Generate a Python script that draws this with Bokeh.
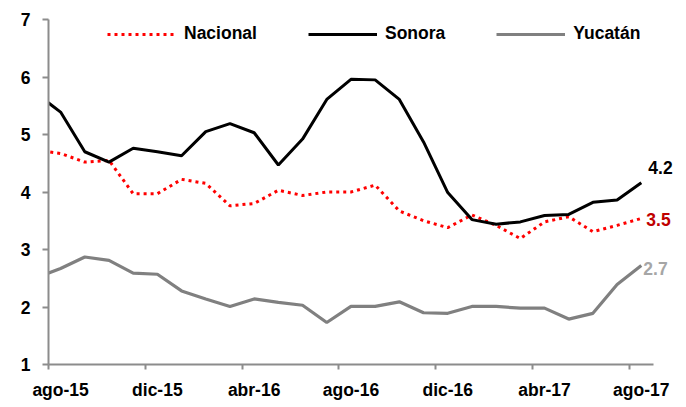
from bokeh.plotting import figure
from bokeh.models import (Range1d, FixedTicker, Legend, LegendItem, Label)
from bokeh.embed import file_html
from bokeh.resources import INLINE
import numpy as np

months = ["jul-15", "ago-15", "sep-15", "oct-15", "nov-15", "dic-15",
          "ene-16", "feb-16", "mar-16", "abr-16", "may-16", "jun-16",
          "jul-16", "ago-16", "sep-16", "oct-16", "nov-16", "dic-16",
          "ene-17", "feb-17", "mar-17", "abr-17", "may-17", "jun-17",
          "jul-17", "ago-17"]
nacional = [4.73, 4.67, 4.52, 4.55, 3.97, 3.97, 4.22, 4.15, 3.76, 3.80,
            4.03, 3.94, 4.00, 4.00, 4.12, 3.67, 3.50, 3.38, 3.60, 3.42,
            3.19, 3.48, 3.57, 3.31, 3.42, 3.54]
sonora = [5.71, 5.39, 4.70, 4.52, 4.76, 4.70, 4.63, 5.05, 5.19, 5.03,
          4.47, 4.92, 5.61, 5.96, 5.95, 5.61, 4.87, 3.99, 3.52, 3.44,
          3.48, 3.59, 3.61, 3.82, 3.86, 4.16]
yucatan = [2.51, 2.67, 2.87, 2.81, 2.59, 2.57, 2.28, 2.14, 2.01, 2.14,
           2.08, 2.03, 1.73, 2.01, 2.01, 2.09, 1.90, 1.89, 2.01, 2.01,
           1.98, 1.98, 1.79, 1.89, 2.39, 2.72]
y_ticks = [1, 2, 3, 4, 5, 6, 7]

x = list(np.arange(len(months)) - 1)
FONT = "Liberation Sans"
FS = "17.5px"
AX = "#8C8C8C"

p = figure(frame_width=632, frame_height=345, output_backend="svg",
           toolbar_location=None,
           x_range=Range1d(-0.5, 25.62), y_range=Range1d(1, 7),
           min_border_left=48, min_border_right=0, min_border_top=19,
           min_border_bottom=0)
p.outline_line_color = None
p.grid.visible = False
p.background_fill_color = "white"
p.border_fill_color = "white"

r_nac = p.line(x, nacional, line_color="#FF0000", line_width=3, line_dash="3 4")
r_son = p.line(x, sonora, line_color="#000000", line_width=3)
r_yuc = p.line(x, yucatan, line_color="#808080", line_width=3.2)

# axes
xa = p.xaxis[0]
label_pos = list(range(0, 25, 4))
xa.bounds = (-0.5, 24.5)
xa.ticker = FixedTicker(ticks=label_pos, minor_ticks=[t - 0.5 for t in label_pos])
xa.major_label_overrides = {t: months[t + 1] for t in label_pos}
xa.major_tick_line_color = None
xa.major_tick_out = 0
xa.major_tick_in = 0
xa.minor_tick_line_color = AX
xa.minor_tick_line_width = 2
xa.minor_tick_out = 5
xa.minor_tick_in = 0
xa.axis_line_color = AX
xa.axis_line_width = 2
xa.major_label_standoff = 10
xa.major_label_text_font = FONT
xa.major_label_text_font_style = "bold"
xa.major_label_text_font_size = FS
xa.major_label_text_color = "black"

ya = p.yaxis[0]
ya.ticker = FixedTicker(ticks=y_ticks, minor_ticks=[])
ya.major_tick_line_color = AX
ya.major_tick_line_width = 2
ya.major_tick_out = 6
ya.major_tick_in = 0
ya.minor_tick_line_color = None
ya.axis_line_color = AX
ya.axis_line_width = 2
ya.major_label_standoff = 12
ya.major_label_text_font = FONT
ya.major_label_text_font_style = "bold"
ya.major_label_text_font_size = FS
ya.major_label_text_color = "black"

legend = Legend(items=[LegendItem(label="Nacional", renderers=[r_nac]),
                       LegendItem(label="Sonora", renderers=[r_son]),
                       LegendItem(label="Yucatán", renderers=[r_yuc])],
                orientation="horizontal", location=(59, 320),
                glyph_width=69, glyph_height=20, label_standoff=8, spacing=51,
                padding=0, margin=0, border_line_color=None,
                background_fill_alpha=0,
                label_text_font=FONT, label_text_font_style="bold",
                label_text_font_size=FS, label_text_color="black")
p.add_layout(legend)

for series, color, xo, yo in [(sonora, "#000000", 7, 15),
                              (nacional, "#C00000", 5, -1),
                              (yucatan, "#A6A6A6", 2, -3)]:
    p.add_layout(Label(x=x[-1], y=series[-1], text=f"{series[-1]:.1f}",
                       x_offset=xo, y_offset=yo, text_baseline="middle",
                       text_align="left", text_font=FONT,
                       text_font_style="bold", text_font_size=FS,
                       text_color=color))

open("out.html", "w").write(file_html(p, INLINE))
